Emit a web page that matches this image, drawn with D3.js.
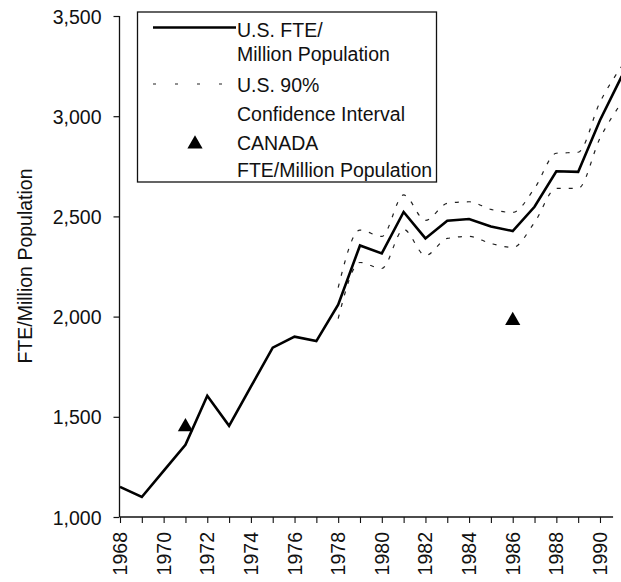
<!DOCTYPE html>
<html>
<head>
<meta charset="utf-8">
<script src="https://cdn.jsdelivr.net/npm/d3@7"></script>
<style>
  html, body { margin: 0; padding: 0; background: #fff; }
  svg text { font-family: "Liberation Sans", Arial, sans-serif; fill: #111; }
</style>
</head>
<body>
<svg id="chart" width="621" height="582"></svg>
<script>
// ---- data ----
const years = d3.range(1968, 1992);
const usFte = [1150, 1100, 1230, 1360, 1605, 1455, 1650, 1845, 1900, 1878, 2060, 2355,
               2315, 2522, 2390, 2478, 2487, 2450, 2427, 2548, 2725, 2722, 2980, 3200];
const ciYears = d3.range(1978, 1992);
const ciUpper = [2145, 2432, 2400, 2607, 2480, 2565, 2573, 2535, 2520, 2640, 2815, 2820, 3070, 3250];
const ciLower = [1990, 2270, 2240, 2435, 2305, 2390, 2400, 2365, 2345, 2470, 2640, 2640, 2890, 3070];
const canadaYears = [1971, 1986];
const canadaFte = [1450, 1980];
const yTicks = [1000, 1500, 2000, 2500, 3000, 3500];
const xLabelYears = d3.range(1968, 1991, 2);
const legendLabels = [
  ["U.S. FTE/", "Million Population"],
  ["U.S. 90%", "Confidence Interval"],
  ["CANADA", "FTE/Million Population"]
];
const yTitle = "FTE/Million Population";

// ---- layout ----
const svg = d3.select("#chart");
const x = d3.scaleLinear().domain([1968, 1991]).range([120, 621.8]);
const y = d3.scaleLinear().domain([1000, 3500]).range([517, 16]);
const fs = 19.5;

// axes
const yAxis = d3.axisLeft(y).tickValues(yTicks).tickSize(6).tickPadding(12)
  .tickFormat(d3.format(","));
const gy = svg.append("g").attr("transform", "translate(119.5,0)").call(yAxis);
gy.select(".domain").attr("d", `M0,${y(3500)}V${y(1000)}`).attr("stroke", "#111").attr("stroke-width", 1.3);
gy.selectAll(".tick line").attr("stroke", "#111").attr("stroke-width", 1.2);
gy.selectAll(".tick text").attr("font-size", fs).attr("dy", "0.36em")
  .style("font-family", '"Liberation Sans", Arial, sans-serif');

const xAxis = d3.axisBottom(x).tickValues(d3.range(1968, 1991)).tickSize(6).tickFormat("");
const gx = svg.append("g").attr("transform", "translate(0,517)").call(xAxis);
gx.select(".domain").attr("d", `M${x(1968)},0H${x(1990.6)}`).attr("stroke", "#111").attr("stroke-width", 1.3);
gx.selectAll(".tick line").attr("stroke", "#111").attr("stroke-width", 1.1);

svg.append("g").selectAll("text").data(xLabelYears).join("text")
  .attr("transform", d => `translate(${x(d)},532) rotate(-90)`)
  .attr("text-anchor", "end").attr("dy", "0.36em")
  .attr("font-size", fs)
  .text(d => d);

// y title
svg.append("text")
  .attr("transform", "translate(32,266) rotate(-90)")
  .attr("text-anchor", "middle")
  .attr("font-size", fs)
  .text(yTitle);

// CI dashed lines
const lineGen = d3.line().x(d => x(d[0])).y(d => y(d[1])).curve(d3.curveMonotoneX);
[ciUpper, ciLower].forEach(arr => {
  svg.append("path")
    .datum(ciYears.map((yr, i) => [yr, arr[i]]))
    .attr("d", lineGen)
    .attr("fill", "none").attr("stroke", "#222").attr("stroke-width", 1.2)
    .attr("stroke-dasharray", "4,8");
});

// US line
svg.append("path")
  .datum(years.map((yr, i) => [yr, usFte[i]]))
  .attr("d", d3.line().x(d => x(d[0])).y(d => y(d[1])))
  .attr("fill", "none").attr("stroke", "#000").attr("stroke-width", 2.6)
  .attr("stroke-linejoin", "miter");

// Canada triangles
const tri = d3.symbol(d3.symbolTriangle, 100);
svg.append("g").selectAll("path").data(canadaYears).join("path")
  .attr("transform", (d, i) => `translate(${x(d)},${y(canadaFte[i])})`)
  .attr("d", tri).attr("fill", "#000");

// legend
const lg = svg.append("g");
lg.append("rect").attr("x", 137.5).attr("y", 12).attr("width", 299).attr("height", 170)
  .attr("fill", "#fff").attr("stroke", "#111").attr("stroke-width", 1.3);
lg.append("line").attr("x1", 153).attr("x2", 236).attr("y1", 27.5).attr("y2", 27.5)
  .attr("stroke", "#000").attr("stroke-width", 2.6);
lg.append("line").attr("x1", 153).attr("x2", 224).attr("y1", 84).attr("y2", 84)
  .attr("stroke", "#222").attr("stroke-width", 1.2).attr("stroke-dasharray", "3,19");
lg.append("path").attr("transform", "translate(195,144)").attr("d", tri).attr("fill", "#000");
const baselines = [[37, 61], [92, 121], [150, 177]];
legendLabels.forEach((pair, i) => {
  pair.forEach((t, j) => {
    lg.append("text").attr("x", 237).attr("y", baselines[i][j])
      .attr("font-size", fs).text(t);
  });
});
</script>
</body>
</html>
